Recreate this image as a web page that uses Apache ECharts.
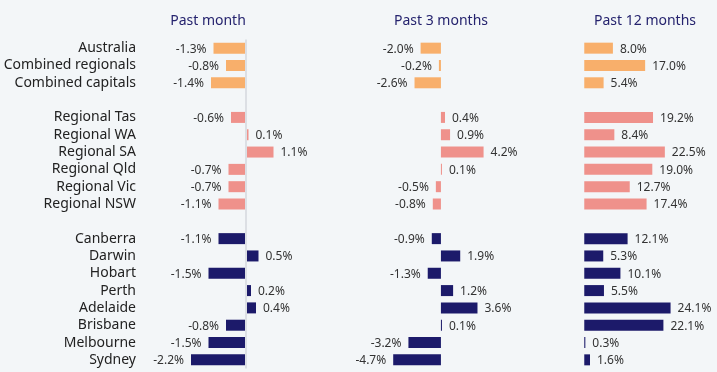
<!DOCTYPE html>
<html><head><meta charset="utf-8">
<script src="https://cdn.jsdelivr.net/npm/echarts@6/dist/echarts.min.js"></script>
<style>html,body{margin:0;padding:0;background:#F3F6F8}#c{width:717px;height:372px}</style>
</head><body><div id="c"></div>
<script>
const groupCapitalsTotals = ['Australia','Combined regionals','Combined capitals'];
const groupRegions = ['Regional Tas','Regional WA','Regional SA','Regional Qld','Regional Vic','Regional NSW'];
const groupCities = ['Canberra','Darwin','Hobart','Perth','Adelaide','Brisbane','Melbourne','Sydney'];
const panelTitles = ['Past month','Past 3 months','Past 12 months'];
// values follow the order: totals, regions, cities
const pastMonth = [-1.3,-0.8,-1.4, -0.6,0.1,1.1,-0.7,-0.7,-1.1, -1.1,0.5,-1.5,0.2,0.4,-0.8,-1.5,-2.2];
const past3Months = [-2.0,-0.2,-2.6, 0.4,0.9,4.2,0.1,-0.5,-0.8, -0.9,1.9,-1.3,1.2,3.6,0.1,-3.2,-4.7];
const past12Months = [8.0,17.0,5.4, 19.2,8.4,22.5,19.0,12.7,17.4, 12.1,5.3,10.1,5.5,24.1,22.1,0.3,1.6];

const groupColors = ['#F8AF6B','#EF918B','#1C1A6A'];
const groups = [groupCapitalsTotals, groupRegions, groupCities];

const categories = [];
const slots = [];
groups.forEach((g, gi) => {
  if (gi > 0) { categories.push(' '.repeat(gi)); slots.push(null); }
  g.forEach(name => { categories.push(name); slots.push(gi); });
});

function buildData(values) {
  let k = 0;
  return slots.map(gi => {
    if (gi === null) return '-';
    const v = values[k++];
    return {
      value: v,
      itemStyle: { color: groupColors[gi] },
      label: { position: v < 0 ? 'left' : 'right' }
    };
  });
}

const gridTop = 39.5, gridHeight = 329;
const grids = [
  { left: 171, width: 125, top: gridTop, height: gridHeight, outerBoundsMode: 'none' },
  { left: 380, width: 111.7, top: gridTop, height: gridHeight, outerBoundsMode: 'none' },
  { left: 577.1, width: 114.6, top: gridTop, height: gridHeight, outerBoundsMode: 'none' }
];
const ranges = [[-3, 2], [-6, 5], [-2, 30]];
const allValues = [pastMonth, past3Months, past12Months];
const centers = [203, 436, 640];

const chart = echarts.init(document.getElementById('c'));
const font = '"Noto Sans", sans-serif';
chart.setOption({
  backgroundColor: '#F3F6F8',
  animation: false,
  title: panelTitles.map((t, i) => ({
    text: t, left: centers[i], top: 9, textAlign: 'center',
    textStyle: { fontFamily: font, fontSize: 14, fontWeight: 'normal', color: '#25236E' }
  })),
  grid: grids,
  xAxis: ranges.map((r, i) => ({
    type: 'value', gridIndex: i, min: r[0], max: r[1], show: false
  })),
  yAxis: grids.map((g, i) => ({
    type: 'category', gridIndex: i, data: categories, inverse: true,
    show: i === 0,
    axisLine: { show: false, onZero: false },
    axisTick: { show: false },
    axisLabel: { interval: 0, margin: 35, fontFamily: font, fontSize: 14, color: '#222222' }
  })),
  series: allValues.map((vals, i) => ({
    type: 'bar', xAxisIndex: i, yAxisIndex: i,
    data: buildData(vals), barWidth: 11,
    label: {
      show: true, distance: 7, fontFamily: font, fontSize: 12, color: '#333333',
      offset: [0, 1],
      formatter: p => p.value.toFixed(1) + '%'
    },
    markLine: i === 0 ? {
      silent: true, symbol: 'none', label: { show: false },
      lineStyle: { color: '#DCDFE4', width: 2, type: 'solid' },
      data: [{ xAxis: 0 }]
    } : undefined,
    z: 3
  }))
});
</script></body></html>
